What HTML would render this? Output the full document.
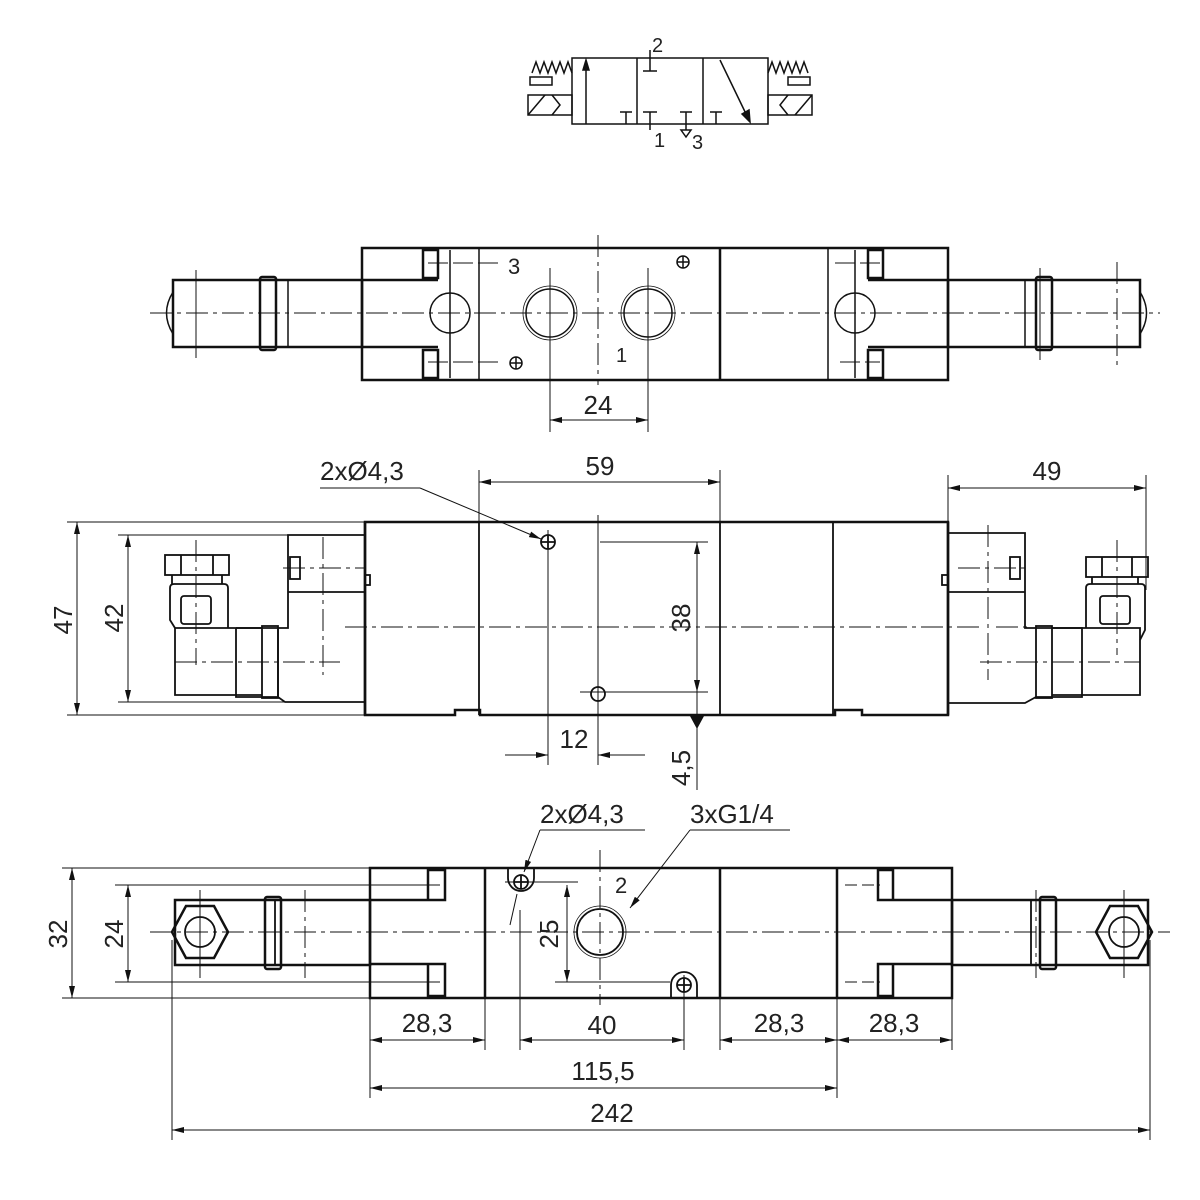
<!DOCTYPE html>
<html><head><meta charset="utf-8"><style>
html,body{margin:0;padding:0;background:#fff}
svg{display:block}
text{font-family:"Liberation Sans",sans-serif;fill:#222}
</style></head><body>
<svg width="1200" height="1200" viewBox="0 0 1200 1200" xmlns="http://www.w3.org/2000/svg">
<defs>
<marker id="a" viewBox="0 0 12 6" refX="12" refY="3" markerWidth="12" markerHeight="6" orient="auto-start-reverse" markerUnits="userSpaceOnUse"><path d="M0,0 L12,3 L0,6z" fill="#111"/></marker>
</defs>
<g fill="none" stroke="#111">
<!-- ===== SYMBOL ===== -->
<g stroke-width="1.5">
<rect x="572" y="58" width="196" height="66"/>
<line x1="637" y1="58" x2="637" y2="124"/><line x1="703" y1="58" x2="703" y2="124"/>
<line x1="586" y1="124" x2="586" y2="62"/><path d="M583,70 L586,60 L589,70z" fill="#111"/>
<line x1="620" y1="112" x2="632" y2="112"/><line x1="626" y1="112" x2="626" y2="124"/>
<line x1="643" y1="71" x2="657" y2="71"/><line x1="650" y1="71" x2="650" y2="50"/>
<line x1="643" y1="112" x2="657" y2="112"/><line x1="650" y1="112" x2="650" y2="130"/>
<line x1="680" y1="112" x2="692" y2="112"/><line x1="686" y1="112" x2="686" y2="130"/>
<path d="M681,130 L691,130 L686,137z"/>
<line x1="710" y1="112" x2="722" y2="112"/><line x1="716" y1="112" x2="716" y2="124"/>
<line x1="720" y1="60" x2="748" y2="118"/><path d="M742,114 L750,122 L749,110z" fill="#111"/>
<path d="M572,73 L568,62 L564,73 L560,62 L556,73 L552,62 L548,73 L544,62 L540,73 L536,62 L532,73"/>
<path d="M768,73 L772,62 L776,73 L780,62 L784,73 L788,62 L792,73 L796,62 L800,73 L804,62 L808,73"/>
<rect x="530" y="77" width="22" height="8"/><rect x="528" y="95" width="44" height="20"/>
<line x1="528" y1="115" x2="545" y2="95"/><path d="M552,95 L560,105 L552,115"/>
<rect x="788" y="77" width="22" height="8"/><rect x="768" y="95" width="44" height="20"/>
<line x1="795" y1="115" x2="812" y2="95"/><path d="M788,95 L780,105 L788,115"/>
</g>
<!-- ===== VIEW 1 ===== -->
<g stroke-width="2.5">
<path d="M948,248 L362,248 L362,380 L948,380 Z"/>
<line x1="720" y1="248" x2="720" y2="380"/>
<rect x="423" y="250" width="15" height="28"/><rect x="423" y="350" width="15" height="28"/>
<rect x="868" y="250" width="15" height="28"/><rect x="868" y="350" width="15" height="28"/>
<path d="M362,280 L438,280 M362,347 L438,347 M948,280 L868,280 M948,347 L868,347"/>
<rect x="173" y="280" width="189" height="67"/><rect x="260" y="277" width="16" height="73" rx="2"/>
<rect x="948" y="280" width="192" height="67"/><rect x="1036" y="277" width="16" height="73" rx="2"/>
</g>
<g stroke-width="1.5">
<line x1="450" y1="250" x2="450" y2="378"/><line x1="479" y1="248" x2="479" y2="380"/>
<line x1="828" y1="248" x2="828" y2="380"/><line x1="855" y1="250" x2="855" y2="378"/>
<line x1="288" y1="280" x2="288" y2="347"/><line x1="1025" y1="280" x2="1025" y2="347"/>
<circle cx="450" cy="313" r="20"/><circle cx="855" cy="313" r="20"/>
<circle cx="550" cy="313" r="24"/><circle cx="550" cy="313" r="27" stroke-width="0.8"/>
<circle cx="648" cy="313" r="24"/><circle cx="648" cy="313" r="27" stroke-width="0.8"/>
<circle cx="683" cy="262" r="6"/><path d="M677,262h12M683,256v12"/>
<circle cx="516" cy="363" r="6"/><path d="M510,363h12M516,357v12"/>
<path d="M173,292 Q160,313 173,334"/><path d="M1140,292 Q1153,313 1140,334"/>
</g>
<g stroke-width="1">
<line x1="150" y1="313" x2="1160" y2="313" stroke-dasharray="22,5,4,5"/>
<line x1="196" y1="270" x2="196" y2="358"/><line x1="1040" y1="268" x2="1040" y2="360"/>
<line x1="1117" y1="262" x2="1117" y2="366" stroke-dasharray="22,5,4,5"/>
<line x1="598" y1="235" x2="598" y2="385" stroke-dasharray="22,5,4,5"/>
<line x1="428" y1="263" x2="500" y2="263" stroke-dasharray="20,5"/><line x1="428" y1="362" x2="500" y2="362" stroke-dasharray="20,5"/>
<line x1="835" y1="263" x2="880" y2="263" stroke-dasharray="20,5"/><line x1="840" y1="362" x2="880" y2="362" stroke-dasharray="20,5"/>
<line x1="550" y1="268" x2="550" y2="432"/><line x1="648" y1="268" x2="648" y2="432"/>
<line x1="550" y1="420" x2="648" y2="420" marker-start="url(#a)" marker-end="url(#a)"/>
</g>
<!-- ===== VIEW 2 ===== -->
<g stroke-width="2.5">
<path d="M365,522 L948,522 L948,715 L862,715 L862,710 L835,710 L835,715 L480,715 L480,710 L455,710 L455,715 L365,715 Z"/>
<line x1="365" y1="522" x2="365" y2="715"/>
<line x1="948" y1="522" x2="948" y2="715"/>
</g>
<g stroke-width="1.8">
<line x1="479" y1="522" x2="479" y2="715"/><line x1="720" y1="522" x2="720" y2="715"/><line x1="833" y1="522" x2="833" y2="715"/>
<!-- left coil -->
<path d="M365,535 L288,535 L288,628 L278,628 M288,592 L365,592"/>
<path d="M365,702 L285,702 L278,697 L236,697 L236,628 M236,628 L278,628 L278,697"/>
<rect x="262" y="626" width="16" height="72"/>
<path d="M262,628 L175,628 L175,695 L262,695"/>
<path d="M175,628 L170,620 L170,588 Q170,584 174,584 L224,584 Q228,584 228,588 L228,628"/>
<rect x="181" y="596" width="30" height="28" rx="3"/>
<rect x="165" y="555" width="64" height="20"/><path d="M181,555v20M213,555v20M172,575 L172,584 M222,575 L222,584"/>
<rect x="290" y="557" width="10" height="22"/><rect x="365" y="575" width="5" height="10"/>
<!-- right coil -->
<path d="M948,533 L1025,533 L1025,628 L1036,628 M948,592 L1025,592"/>
<path d="M948,703 L1025,703 L1036,697 L1082,697 L1082,628 L1036,628"/>
<rect x="1036" y="626" width="16" height="72"/>
<path d="M1052,628 L1140,628 L1140,695 L1052,695"/>
<path d="M1140,640 L1145,630 L1145,588 Q1145,584 1141,584 L1090,584 Q1086,584 1086,588 L1086,628"/>
<rect x="1100" y="596" width="30" height="28" rx="3"/>
<rect x="1086" y="557" width="62" height="20"/><path d="M1102,557v20M1132,557v20M1092,577 L1092,584 M1138,577 L1138,584"/>
<rect x="1010" y="557" width="10" height="22"/><rect x="942" y="575" width="6" height="10"/>
<circle cx="548" cy="542" r="7"/><path d="M541,542h14M548,535v14"/>
<circle cx="598" cy="694" r="7"/>
</g>
<g stroke-width="1">
<line x1="345" y1="627" x2="980" y2="627" stroke-dasharray="22,5,4,5"/>
<line x1="996" y1="627" x2="1030" y2="627" stroke-dasharray="22,5,4,5"/>
<line x1="196" y1="540" x2="196" y2="665" stroke-dasharray="22,5,4,5"/>
<line x1="175" y1="662" x2="340" y2="662" stroke-dasharray="22,5,4,5"/>
<line x1="323" y1="537" x2="323" y2="675" stroke-dasharray="22,5,4,5"/>
<line x1="283" y1="568" x2="365" y2="568" stroke-dasharray="22,5,4,5"/>
<line x1="1117" y1="540" x2="1117" y2="655" stroke-dasharray="22,5,4,5"/>
<line x1="980" y1="662" x2="1140" y2="662" stroke-dasharray="22,5,4,5"/>
<line x1="988" y1="525" x2="988" y2="680" stroke-dasharray="22,5,4,5"/>
<line x1="958" y1="568" x2="1030" y2="568" stroke-dasharray="22,5,4,5"/>
<line x1="598" y1="515" x2="598" y2="765"/><line x1="548" y1="530" x2="548" y2="765"/>
<line x1="67" y1="522" x2="365" y2="522"/><line x1="67" y1="715" x2="365" y2="715"/>
<line x1="118" y1="535" x2="290" y2="535"/><line x1="118" y1="702" x2="290" y2="702"/>
<line x1="77" y1="522" x2="77" y2="715" marker-start="url(#a)" marker-end="url(#a)"/>
<line x1="128" y1="535" x2="128" y2="702" marker-start="url(#a)" marker-end="url(#a)"/>
<line x1="479" y1="470" x2="479" y2="522"/><line x1="720" y1="470" x2="720" y2="522"/>
<line x1="479" y1="482" x2="720" y2="482" marker-start="url(#a)" marker-end="url(#a)"/>
<line x1="948" y1="475" x2="948" y2="522"/><line x1="1146" y1="475" x2="1146" y2="590"/>
<line x1="948" y1="488" x2="1146" y2="488" marker-start="url(#a)" marker-end="url(#a)"/>
<line x1="600" y1="542" x2="708" y2="542"/><line x1="580" y1="692" x2="708" y2="692"/>
<line x1="697" y1="542" x2="697" y2="692" marker-start="url(#a)" marker-end="url(#a)"/>
<line x1="697" y1="692" x2="697" y2="790"/><path d="M690,715 L697,728 L704,715" fill="#111"/>
<line x1="505" y1="755" x2="548" y2="755" marker-end="url(#a)"/><line x1="645" y1="755" x2="598" y2="755" marker-end="url(#a)"/>
<line x1="320" y1="488" x2="420" y2="488"/><line x1="420" y1="488" x2="541" y2="539" marker-end="url(#a)"/>
</g>
<!-- ===== VIEW 3 ===== -->
<g stroke-width="2.5">
<rect x="370" y="868" width="582" height="130"/>
<line x1="485" y1="868" x2="485" y2="998"/><line x1="720" y1="868" x2="720" y2="998"/><line x1="837" y1="868" x2="837" y2="998"/>
<path d="M370,900 L445,900 L445,870 L428,870 L428,900 M370,964 L445,964 L445,996 L428,996 L428,964"/>
<path d="M952,900 L878,900 L878,870 L893,870 L893,900 M952,964 L878,964 L878,996 L893,996 L893,964"/>
<rect x="175" y="900" width="195" height="65"/><rect x="265" y="897" width="16" height="72" rx="2"/>
<rect x="952" y="900" width="196" height="65"/><rect x="1040" y="897" width="16" height="72" rx="2"/>
<path d="M172,932 L186,906 L214,906 L228,932 L214,958 L186,958 Z"/>
<path d="M1096,932 L1110,906 L1138,906 L1152,932 L1138,958 L1110,958 Z"/>
</g>
<g stroke-width="1.8">
<circle cx="200" cy="932" r="15"/><circle cx="1124" cy="932" r="15"/>
<line x1="275" y1="900" x2="275" y2="965"/><line x1="1031" y1="900" x2="1031" y2="965"/>
<circle cx="600" cy="932" r="23"/><circle cx="600" cy="932" r="26" stroke-width="0.8"/>
<path d="M508,868 L508,878 A13,13 0 0 0 534,878 L534,868"/><circle cx="521" cy="882" r="7"/><path d="M514,882h14M521,875v14"/>
<path d="M671,998 L671,985 A13,13 0 0 1 697,985 L697,998"/><circle cx="684" cy="985" r="7"/><path d="M677,985h14M684,978v14"/>
</g>
<g stroke-width="1">
<line x1="150" y1="932" x2="1170" y2="932" stroke-dasharray="22,5,4,5"/>
<line x1="200" y1="890" x2="200" y2="978"/><line x1="1124" y1="890" x2="1124" y2="978"/>
<line x1="1036" y1="890" x2="1036" y2="978" stroke-dasharray="22,5,4,5"/>
<line x1="305" y1="890" x2="305" y2="978" stroke-dasharray="22,5,4,5"/>
<line x1="600" y1="850" x2="600" y2="1005" stroke-dasharray="22,5,4,5"/>
<line x1="845" y1="885" x2="880" y2="885" stroke-dasharray="12,5"/><line x1="845" y1="982" x2="880" y2="982" stroke-dasharray="12,5"/>
<line x1="62" y1="868" x2="370" y2="868"/><line x1="62" y1="998" x2="370" y2="998"/>
<line x1="115" y1="885" x2="440" y2="885"/><line x1="115" y1="982" x2="440" y2="982"/>
<line x1="72" y1="868" x2="72" y2="998" marker-start="url(#a)" marker-end="url(#a)"/>
<line x1="128" y1="885" x2="128" y2="982" marker-start="url(#a)" marker-end="url(#a)"/>
<line x1="505" y1="882" x2="578" y2="882"/><line x1="555" y1="982" x2="670" y2="982"/>
<line x1="567" y1="885" x2="567" y2="982" marker-start="url(#a)" marker-end="url(#a)"/>
<line x1="540" y1="830" x2="645" y2="830"/><line x1="540" y1="830" x2="524" y2="872" marker-end="url(#a)"/>
<line x1="517" y1="894" x2="510" y2="925"/>
<line x1="690" y1="830" x2="790" y2="830"/><line x1="690" y1="830" x2="630" y2="908" marker-end="url(#a)"/>
<line x1="172" y1="940" x2="172" y2="1140"/><line x1="1150" y1="940" x2="1150" y2="1140"/>
<line x1="370" y1="998" x2="370" y2="1098"/><line x1="485" y1="998" x2="485" y2="1050"/>
<line x1="520" y1="910" x2="520" y2="1050"/><line x1="684" y1="975" x2="684" y2="1050"/>
<line x1="720" y1="998" x2="720" y2="1050"/><line x1="837" y1="998" x2="837" y2="1098"/><line x1="952" y1="998" x2="952" y2="1050"/>
<line x1="370" y1="1040" x2="485" y2="1040" marker-start="url(#a)" marker-end="url(#a)"/>
<line x1="520" y1="1040" x2="684" y2="1040" marker-start="url(#a)" marker-end="url(#a)"/>
<line x1="720" y1="1040" x2="837" y2="1040" marker-start="url(#a)" marker-end="url(#a)"/>
<line x1="837" y1="1040" x2="952" y2="1040" marker-start="url(#a)" marker-end="url(#a)"/>
<line x1="370" y1="1088" x2="837" y2="1088" marker-start="url(#a)" marker-end="url(#a)"/>
<line x1="172" y1="1130" x2="1150" y2="1130" marker-start="url(#a)" marker-end="url(#a)"/>
</g>
</g>
<!-- text -->
<g font-size="26">
<text x="652" y="52" font-size="20">2</text>
<text x="654" y="147" font-size="20">1</text>
<text x="692" y="149" font-size="20">3</text>
<text x="508" y="274" font-size="22">3</text>
<text x="616" y="362" font-size="20">1</text>
<text x="598" y="414" text-anchor="middle">24</text>
<text x="320" y="480">2xØ4,3</text>
<text x="600" y="475" text-anchor="middle">59</text>
<text x="1047" y="480" text-anchor="middle">49</text>
<text transform="translate(72,620) rotate(-90)" text-anchor="middle">47</text>
<text transform="translate(123,618) rotate(-90)" text-anchor="middle">42</text>
<text transform="translate(690,618) rotate(-90)" text-anchor="middle">38</text>
<text x="574" y="748" text-anchor="middle">12</text>
<text transform="translate(690,768) rotate(-90)" text-anchor="middle">4,5</text>
<text x="540" y="823">2xØ4,3</text>
<text x="690" y="823">3xG1/4</text>
<text x="615" y="893" font-size="22">2</text>
<text transform="translate(67,934) rotate(-90)" text-anchor="middle">32</text>
<text transform="translate(123,934) rotate(-90)" text-anchor="middle">24</text>
<text transform="translate(558,934) rotate(-90)" text-anchor="middle">25</text>
<text x="427" y="1032" text-anchor="middle">28,3</text>
<text x="602" y="1034" text-anchor="middle">40</text>
<text x="779" y="1032" text-anchor="middle">28,3</text>
<text x="894" y="1032" text-anchor="middle">28,3</text>
<text x="603" y="1080" text-anchor="middle">115,5</text>
<text x="612" y="1122" text-anchor="middle">242</text>
</g>
</svg>
</body></html>
